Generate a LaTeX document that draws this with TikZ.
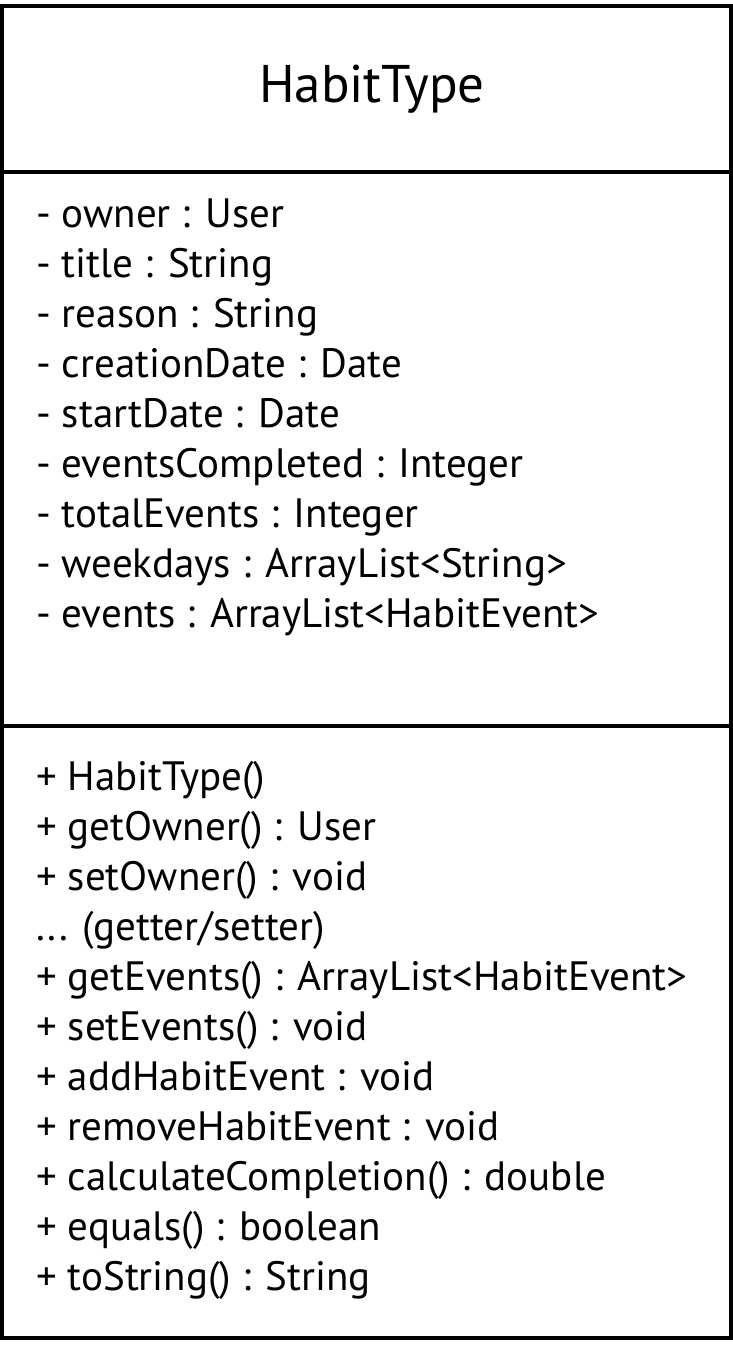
\documentclass[tikz,border=0pt]{standalone}
\usepackage{fontspec}
\setmainfont{PT Sans}
\usetikzlibrary{positioning}

\tikzset{
  classline/.style={line width=4pt,black},
  member/.style={anchor=base west,inner sep=0pt,font=\fontsize{41}{50}\selectfont},
  classname/.style={anchor=center,inner sep=0pt,font=\fontsize{53}{60}\selectfont}
}

\begin{document}
\begin{tikzpicture}[x=1pt,y=-1pt]
      \useasboundingbox (0,0) rectangle (733,1352);

      %%%%%%%%%%%%%%%%%%%%%%%%%%%%%%%%%%%%%%%%%%%%%%%%%%%%%%%%%%%%%%%%%%%%%%%%%%%
      %%%%  box and compartments
      \draw[classline] (2,6) rectangle (730.5,1338);
      \draw[classline] (2,172) -- (730.5,172);
      \draw[classline] (2,726) -- (730.5,726);

      \node[classname] (name) at (372,89) {HabitType};

      %%%%%%%%%%%%%%%%%%%%%%%%%%%%%%%%%%%%%%%%%%%%%%%%%%%%%%%%%%%%%%%%%%%%%%%%%%%
      %%%%  attributes
      \foreach \t [count=\i] in {- owner : User,
                                 - title : String,
                                 - reason : String,
                                 - creationDate : Date,
                                 - startDate : Date,
                                 - eventsCompleted : Integer,
                                 - totalEvents : Integer,
                                 - weekdays : ArrayList<String>,
                                 - events : ArrayList<HabitEvent>}
       {\node[member] (attr\i) at (36,{177 + 50*\i}) {\t};
       };

      %%%%%%%%%%%%%%%%%%%%%%%%%%%%%%%%%%%%%%%%%%%%%%%%%%%%%%%%%%%%%%%%%%%%%%%%%%%
      %%%%  methods
      \foreach \t [count=\i] in {+ HabitType(),
                                 + getOwner() : User,
                                 + setOwner() : void,
                                 {{...} (getter/setter)},
                                 + getEvents() : ArrayList<HabitEvent>,
                                 + setEvents() : void,
                                 + addHabitEvent : void,
                                 + removeHabitEvent : void,
                                 + calculateCompletion() : double,
                                 + equals() : boolean,
                                 + toString() : String}
       {\node[member] (meth\i) at (36,{740 + 50*\i}) {\t};
       };
    \end{tikzpicture}
\end{document}
